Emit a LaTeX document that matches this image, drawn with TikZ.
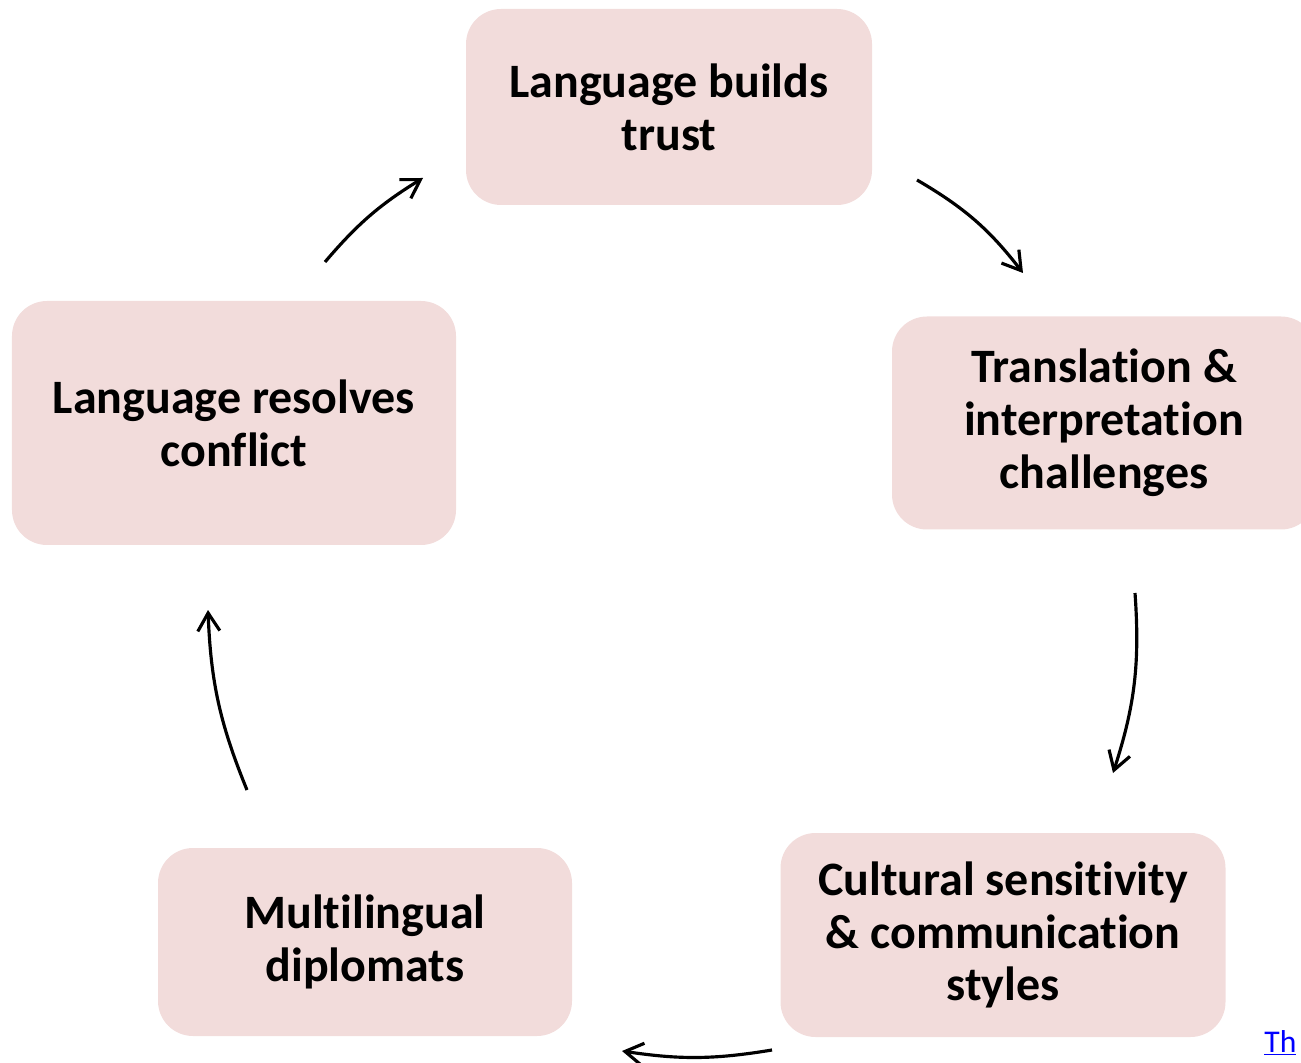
\documentclass[tikz,border=0pt]{standalone}
\usepackage{fontspec}
\setmainfont{Carlito}[Ligatures=NoCommon]
\usetikzlibrary{arrows.meta}
\definecolor{stagepink}{RGB}{242,220,219}
\definecolor{linkblue}{RGB}{0,0,255}

\begin{document}
\begin{tikzpicture}[
    stage/.style={rectangle, rounded corners=0.7cm, fill=stagepink, align=center, font=\fontsize{27.3}{30.1}\selectfont\bfseries},
    arrow/.style={-{Straight Barb[length=3.6mm, width=4.4mm]}, line width=1.8pt},
    link/.style={font=\fontsize{18}{22}\selectfont, text=linkblue, inner sep=0pt}
]
\useasboundingbox (0,0) rectangle (26.02,21.24);
\clip (0,0) rectangle (26.02,21.24);

% === Stages of the cycle ===
\node[stage, minimum width=8.12cm, minimum height=3.92cm] (trust) at (13.38, 19.10) {Language builds\\trust};
\node[stage, minimum width=8.48cm, minimum height=4.26cm] (transl) at (22.08, 12.78) {Translation \&\\interpretation\\challenges};
\node[stage, minimum width=8.90cm, minimum height=4.08cm] (culture) at (20.06, 2.54) {Cultural sensitivity\\\& communication\\styles};
\node[stage, minimum width=8.28cm, minimum height=3.76cm] (diplo) at (7.30, 2.40) {Multilingual\\diplomats};
\node[stage, minimum width=8.88cm, minimum height=4.88cm] (conflict) at (4.68, 12.78) {Language resolves\\conflict};

% Arrow ends
\coordinate (a1s) at (18.34, 17.64);
\coordinate (a1e) at (20.46, 15.78);
\coordinate (a2s) at (22.70, 9.38);
\coordinate (a2e) at (22.26, 5.78);
\coordinate (a3s) at (15.44, 0.24);
\coordinate (a3e) at (12.44, 0.22);
\coordinate (a4s) at (4.94, 5.44);
\coordinate (a4e) at (4.16, 9.04);
\coordinate (a5s) at (6.50, 16.00);
\coordinate (a5e) at (8.46, 17.68);

% Arrows round the cycle
\draw[arrow] (a1s) to[bend left=11] (a1e);
\draw[arrow] (a2s) to[bend left=11] (a2e);
\draw[arrow] (a3s) to[bend left=9] (a3e);
\draw[arrow] (a4s) to[bend left=10] (a4e);
\draw[arrow] (a5s) to[bend left=9] (a5e);

% Link text at the corner
\node[link, anchor=base west] (photo) at (25.28, 0.20) {\underline{Th}};

\end{tikzpicture}
\end{document}
